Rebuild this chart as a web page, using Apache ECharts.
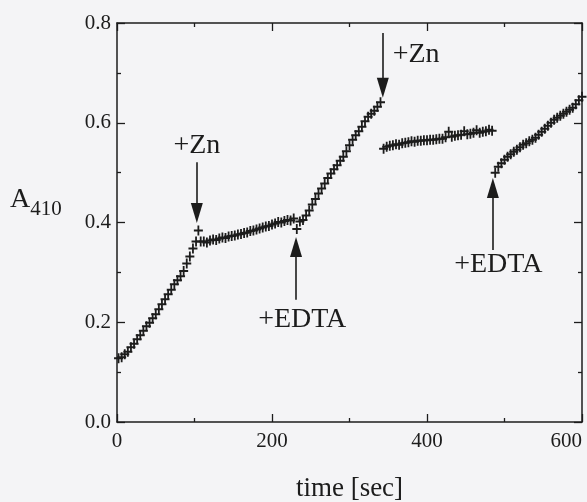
<!DOCTYPE html>
<html>
<head>
<meta charset="utf-8">
<script src="https://cdn.jsdelivr.net/npm/echarts@6/dist/echarts.min.js"></script>
<style>
html,body{margin:0;padding:0;background:#f4f4f6;}
#c{width:587px;height:502px;}
</style>
</head>
<body>
<div id="c"></div>
<script>
// ---- data ----
const timeSec = [
  2,6,10,14,18,22,26,30,34,38,42,46,50,54,58,62,66,70,74,78,82,86,90,94,98,102,105,108,
  112,116,120,124,128,132,136,140,144,148,152,156,160,164,168,172,176,180,184,188,192,196,200,204,208,212,216,220,224,228,232,236,
  240,244,248,252,256,260,264,268,272,276,280,284,288,292,296,300,304,308,312,316,320,324,328,332,336,340,
  344,348,352,356,360,364,368,372,376,380,384,388,392,396,400,404,408,412,416,420,424,428,432,436,440,444,448,452,456,460,464,468,472,476,480,484,
  488,492,496,500,504,508,512,516,520,524,528,532,536,540,544,548,552,556,560,564,568,572,576,580,584,588,592,596,600
];
const absorbance = [
  0.128,0.130,0.136,0.141,0.150,0.157,0.166,0.174,0.183,0.192,0.199,0.208,0.216,0.226,0.236,0.246,0.256,0.265,0.276,0.284,0.292,0.303,0.318,0.332,0.348,0.362,0.384,0.362,
  0.362,0.360,0.364,0.366,0.365,0.368,0.370,0.369,0.372,0.373,0.374,0.376,0.377,0.379,0.380,0.383,0.384,0.386,0.388,0.390,0.392,0.393,0.396,0.398,0.401,0.400,0.403,0.405,0.404,0.408,0.387,0.402,
  0.405,0.414,0.424,0.436,0.447,0.458,0.468,0.478,0.489,0.498,0.507,0.515,0.524,0.532,0.543,0.555,0.566,0.575,0.583,0.592,0.603,0.612,0.618,0.624,0.632,0.641,
  0.548,0.552,0.554,0.555,0.557,0.556,0.559,0.560,0.561,0.563,0.562,0.564,0.564,0.565,0.565,0.566,0.566,0.567,0.568,0.568,0.571,0.582,0.572,0.574,0.575,0.576,0.583,0.577,0.578,0.580,0.585,0.580,0.582,0.583,0.586,0.584,
  0.500,0.512,0.519,0.526,0.532,0.537,0.542,0.546,0.551,0.556,0.559,0.563,0.566,0.570,0.576,0.582,0.588,0.594,0.600,0.606,0.610,0.614,0.618,0.622,0.626,0.630,0.637,0.645,0.652
];
const xTicks = [0, 200, 400, 600];
const yTicks = [0.0, 0.2, 0.4, 0.6, 0.8];
// annotations: label, arrow x, arrow start (tail), arrow end (tip), label position
const annLabels = ['+Zn', '+Zn', '+EDTA', '+EDTA'];
const annX      = [103, 343, 231, 485];
const annTail   = [0.521, 0.78, 0.245, 0.345];
const annTip    = [0.419, 0.67, 0.351, 0.469];
const annLabelX = [103, 386, 239, 492];
const annLabelY = [0.555, 0.736, 0.205, 0.315];

const ink = '#1c1c1c';
const serif = '"Liberation Serif","DejaVu Serif",serif';
const points = timeSec.map((t, i) => [t, absorbance[i]]);

const axisCommon = {
  type: 'value',
  axisLine: { show: true, onZero: false, lineStyle: { color: ink, width: 1.5 } },
  axisTick: { show: true, inside: true, length: 8, lineStyle: { color: ink, width: 1.3 } },
  minorTick: { show: true, splitNumber: 2, length: 4, lineStyle: { color: ink, width: 1.3 } },
  splitLine: { show: false },
  axisLabel: { color: ink, fontFamily: serif, fontSize: 21 }
};

const option = {
  backgroundColor: '#f4f4f6',
  animation: false,
  grid: { left: 117, right: 5, top: 23, bottom: 80, containLabel: false, outerBoundsMode: 'none' },
  xAxis: [
    Object.assign({}, axisCommon, {
      min: xTicks[0], max: xTicks[xTicks.length - 1], interval: xTicks[1] - xTicks[0],
      position: 'bottom',
      axisLabel: Object.assign({}, axisCommon.axisLabel, { margin: 9, alignMaxLabel: 'right' }),
      name: 'time [sec]', nameLocation: 'middle', nameGap: 53,
      nameTextStyle: { color: ink, fontFamily: serif, fontSize: 27 }
    }),
    Object.assign({}, axisCommon, {
      min: xTicks[0], max: xTicks[xTicks.length - 1], interval: xTicks[1] - xTicks[0],
      position: 'top', axisLabel: { show: false }
    })
  ],
  yAxis: [
    Object.assign({}, axisCommon, {
      min: yTicks[0], max: yTicks[yTicks.length - 1], interval: yTicks[1] - yTicks[0],
      position: 'left',
      axisLabel: Object.assign({}, axisCommon.axisLabel, { margin: 6, formatter: v => v.toFixed(1) })
    }),
    Object.assign({}, axisCommon, {
      min: yTicks[0], max: yTicks[yTicks.length - 1], interval: yTicks[1] - yTicks[0],
      position: 'right', axisLabel: { show: false }
    })
  ],
  graphic: [{
    type: 'text', left: 10, top: 186,
    style: {
      text: '{a|A}{s|410}',
      rich: {
        a: { fontFamily: serif, fontSize: 28, fill: ink, verticalAlign: 'bottom', padding: [0, 0, 6, 0] },
        s: { fontFamily: serif, fontSize: 21, fill: ink, verticalAlign: 'bottom' }
      }
    }
  }],
  series: [{
    type: 'scatter',
    data: points,
    symbol: 'path://M4.0,0H6.0V4.0H10V6.0H6.0V10H4.0V6.0H0V4.0H4.0Z',
    symbolSize: [9, 10],
    itemStyle: { color: ink, opacity: 1 },
    silent: true,
    markLine: {
      silent: true,
      symbol: ['none', 'triangle'],
      symbolSize: 14,
      lineStyle: { color: ink, width: 1.6, type: 'solid' },
      label: { show: false },
      data: annX.map((x, i) => [
        { coord: [x, annTail[i]], symbol: 'none' },
        { coord: [x, annTip[i]], symbol: 'triangle', symbolSize: [12, 20] }
      ])
    },
    markPoint: {
      silent: true,
      symbol: 'rect',
      symbolSize: 1,
      itemStyle: { color: 'rgba(0,0,0,0)' },
      label: { show: true, position: 'inside', color: ink, fontFamily: serif, fontSize: 28 },
      data: annLabels.map((t, i) => ({ coord: [annLabelX[i], annLabelY[i]], value: t, label: { formatter: t } }))
    }
  }]
};

const chart = echarts.init(document.getElementById('c'), null, { renderer: 'canvas' });
chart.setOption(option);
</script>
</body>
</html>
